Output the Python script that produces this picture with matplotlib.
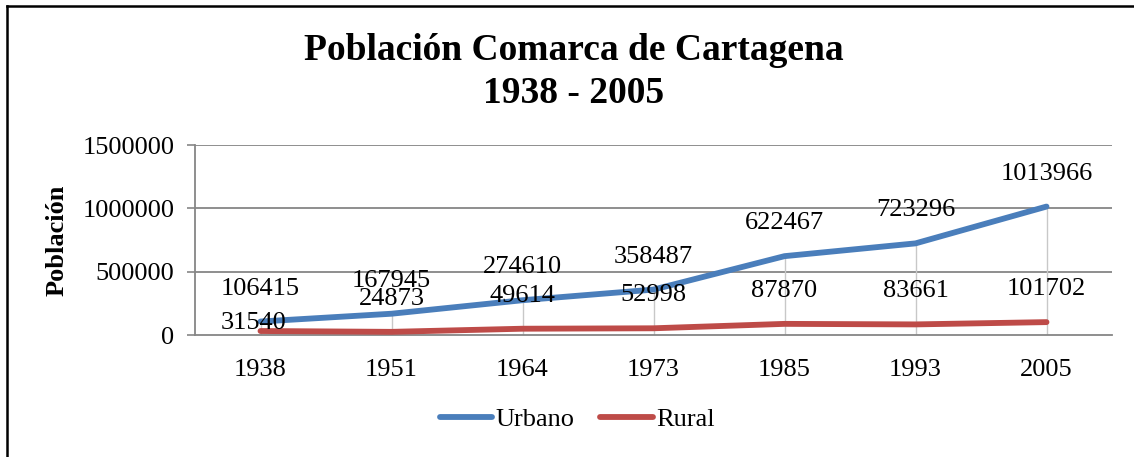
import matplotlib
matplotlib.use("Agg")
import matplotlib.pyplot as plt
from matplotlib.lines import Line2D

YEARS = ["1938", "1951", "1964", "1973", "1985", "1993", "2005"]
URBANO = [106415, 167945, 274610, 358487, 622467, 723296, 1013966]
RURAL = [31540, 24873, 49614, 52998, 87870, 83661, 101702]
Y_TICKS = [0, 500000, 1000000, 1500000]

BLUE, RED, GRID, DROP = "#4A7EBB", "#BE4B48", "#868686", "#C8C8C8"
FS = 19

plt.rcParams.update({"font.family": ["Liberation Serif", "DejaVu Serif"],
                     "font.size": FS})

W, H = 1134, 457
fig = plt.figure(figsize=(W / 100, H / 100), dpi=100)
ax = fig.add_axes([195 / W, 1 - 335 / H, 917 / W, 190 / H])

x = list(range(len(YEARS)))
# drop lines from the top series down to the axis
for xi, u in zip(x, URBANO):
    ax.plot([xi, xi], [0, u], color=DROP, lw=1, zorder=1)

ax.plot(x, URBANO, color=BLUE, lw=4.2, solid_capstyle="round", zorder=3, label="Urbano")
ax.plot(x, RURAL, color=RED, lw=4.2, solid_capstyle="round", zorder=3, label="Rural")

for xi, u, r in zip(x, URBANO, RURAL):
    ax.annotate(str(u), (xi, u), xytext=(0, 33), textcoords="offset pixels",
                ha="center", va="center", fontsize=FS, zorder=4)
    off = 8 if xi == 0 else 33
    ax.annotate(str(r), (xi, r), xytext=(-7 if xi == 0 else 0, off), textcoords="offset pixels",
                ha="center", va="center", fontsize=FS, zorder=4)

ax.set_xlim(-0.5, len(YEARS) - 0.5)
ax.set_ylim(0, 1500000)
ax.set_yticks(Y_TICKS)
ax.set_yticklabels([str(t) for t in Y_TICKS])
ax.set_xticks(x)
ax.set_xticklabels(YEARS)
ax.tick_params(axis="y", length=5.8, color=GRID, width=1.2, pad=9)
ax.tick_params(axis="x", length=0, pad=17)
for t in Y_TICKS[1:]:
    ax.axhline(t, color=GRID, lw=1.3, zorder=0)
for s in ["top", "right"]:
    ax.spines[s].set_visible(False)
ax.spines["left"].set_color(GRID)
ax.spines["bottom"].set_color(GRID)
ax.spines["left"].set_linewidth(1.3)
ax.spines["bottom"].set_linewidth(1.3)

fig.text(57 / W, 1 - 240 / H, "Población", rotation=90, ha="center", va="center",
         fontsize=FS, fontweight="bold")
fig.text(574 / W, 1 - 72 / H, "Población Comarca de Cartagena\n1938 - 2005",
         ha="center", va="center", fontsize=27, fontweight="bold", linespacing=1.32)

fig.legend(loc="center", bbox_to_anchor=(577 / W, 1 - 419 / H), ncol=2, frameon=False,
           handlelength=2.0, handletextpad=0.1, columnspacing=1.0, fontsize=FS)

# outer frame (top and left edges visible)
fig.add_artist(Line2D([6.5 / W, 1], [1 - 5.5 / H, 1 - 5.5 / H], color="black", lw=1.8,
                      transform=fig.transFigure))
fig.add_artist(Line2D([6.5 / W, 6.5 / W], [0, 1 - 5.5 / H], color="black", lw=1.8,
                      transform=fig.transFigure))

fig.savefig("out.png", dpi=100)
